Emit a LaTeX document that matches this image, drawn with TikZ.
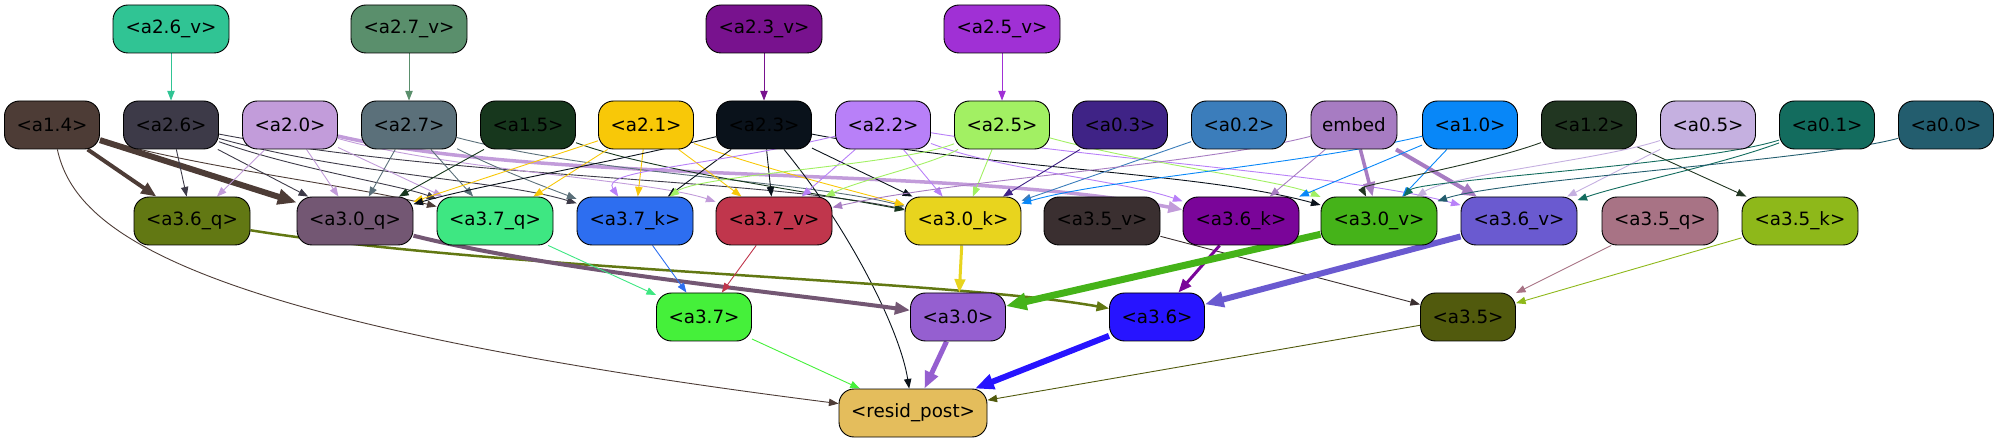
\documentclass[tikz,border=0pt]{standalone}
\usepackage{fontspec}
\setmainfont{DejaVu Sans}
\usetikzlibrary{arrows.meta,backgrounds}
\newcommand\nfnt{\fontsize{18.3pt}{22pt}\selectfont}
\definecolor{c26v}{HTML}{30C494}
\definecolor{c27v}{HTML}{5A8F6C}
\definecolor{c23v}{HTML}{78128E}
\definecolor{c25v}{HTML}{A030D5}
\definecolor{c14}{HTML}{4D3C36}
\definecolor{c26}{HTML}{3D3A48}
\definecolor{c20}{HTML}{C29CDA}
\definecolor{c27}{HTML}{5B707A}
\definecolor{c15}{HTML}{17371D}
\definecolor{c21}{HTML}{F8C808}
\definecolor{c23}{HTML}{0A121B}
\definecolor{c22}{HTML}{B880F8}
\definecolor{c25}{HTML}{A2F063}
\definecolor{c03}{HTML}{3F2386}
\definecolor{c02}{HTML}{3B7DBB}
\definecolor{cemb}{HTML}{A77CC2}
\definecolor{c10}{HTML}{0887F8}
\definecolor{c12}{HTML}{213621}
\definecolor{c05}{HTML}{C5B0E0}
\definecolor{c01}{HTML}{136C5E}
\definecolor{c00}{HTML}{235D6E}
\definecolor{c36q}{HTML}{627813}
\definecolor{c30q}{HTML}{735773}
\definecolor{c37q}{HTML}{3EE782}
\definecolor{c37k}{HTML}{2D6EF0}
\definecolor{c37v}{HTML}{C0364C}
\definecolor{c30k}{HTML}{E8D41E}
\definecolor{c35v}{HTML}{3A2F30}
\definecolor{c36k}{HTML}{7A0599}
\definecolor{c30v}{HTML}{45B319}
\definecolor{c36v}{HTML}{6A5AD0}
\definecolor{c35q}{HTML}{A87385}
\definecolor{c35k}{HTML}{8EB81A}
\definecolor{c37}{HTML}{45F03A}
\definecolor{c30}{HTML}{955FD0}
\definecolor{c36}{HTML}{2714FF}
\definecolor{c35}{HTML}{515A0D}
\definecolor{cres}{HTML}{E4BD5C}
\tikzset{
  nd/.style={draw=black, line width=0.9pt, rounded corners=15pt, minimum height=48pt,
    minimum width=95pt, inner sep=0pt, font=\nfnt, text=black},
  wd/.style={nd, minimum width=116pt},
  ed/.style={line width=#1, -{Triangle[length=8pt 1.8, width=6pt 1.5]}},
  ed/.default=0.9pt
}
\begin{document}
\begin{tikzpicture}[x=1pt,y=1pt]
\useasboundingbox (0,0) rectangle (1996,-443);
% row 0
\node[wd, fill=c26v] (a26v) at (171,-29) {<a2.6\_v>};
\node[wd, fill=c27v] (a27v) at (409,-29) {<a2.7\_v>};
\node[wd, fill=c23v] (a23v) at (764,-29) {<a2.3\_v>};
\node[wd, fill=c25v] (a25v) at (1002,-29) {<a2.5\_v>};
% row 1
\node[nd, fill=c14] (a14) at (52,-125) {<a1.4>};
\node[nd, fill=c26] (a26) at (171,-125) {<a2.6>};
\node[nd, fill=c20] (a20) at (290,-125) {<a2.0>};
\node[nd, fill=c27] (a27) at (409,-125) {<a2.7>};
\node[nd, fill=c15] (a15) at (528,-125) {<a1.5>};
\node[nd, fill=c21] (a21) at (646,-125) {<a2.1>};
\node[nd, fill=c23] (a23) at (764,-125) {<a2.3>};
\node[nd, fill=c22] (a22) at (883,-125) {<a2.2>};
\node[nd, fill=c25] (a25) at (1002,-125) {<a2.5>};
\node[nd, fill=c03] (a03) at (1120,-125) {<a0.3>};
\node[nd, fill=c02] (a02) at (1239,-125) {<a0.2>};
\node[nd, fill=cemb, minimum width=86pt] (emb) at (1354,-125) {embed};
\node[nd, fill=c10] (a10) at (1470,-125) {<a1.0>};
\node[nd, fill=c12] (a12) at (1589,-125) {<a1.2>};
\node[nd, fill=c05] (a05) at (1708,-125) {<a0.5>};
\node[nd, fill=c01] (a01) at (1827,-125) {<a0.1>};
\node[nd, fill=c00] (a00) at (1946,-125) {<a0.0>};
% row 2
\node[wd, fill=c36q] (a36q) at (192,-221) {<a3.6\_q>};
\node[wd, fill=c30q] (a30q) at (355,-221) {<a3.0\_q>};
\node[wd, fill=c37q] (a37q) at (495,-221) {<a3.7\_q>};
\node[wd, fill=c37k] (a37k) at (635,-221) {<a3.7\_k>};
\node[wd, fill=c37v] (a37v) at (774,-221) {<a3.7\_v>};
\node[wd, fill=c30k] (a30k) at (963,-221) {<a3.0\_k>};
\node[wd, fill=c35v] (a35v) at (1102,-221) {<a3.5\_v>};
\node[wd, fill=c36k] (a36k) at (1241,-221) {<a3.6\_k>};
\node[wd, fill=c30v] (a30v) at (1379,-221) {<a3.0\_v>};
\node[wd, fill=c36v] (a36v) at (1519,-221) {<a3.6\_v>};
\node[wd, fill=c35q] (a35q) at (1660,-221) {<a3.5\_q>};
\node[wd, fill=c35k] (a35k) at (1800,-221) {<a3.5\_k>};
% row 3
\node[nd, fill=c37] (a37) at (704,-317) {<a3.7>};
\node[nd, fill=c30] (a30) at (958,-317) {<a3.0>};
\node[nd, fill=c36] (a36) at (1157,-317) {<a3.6>};
\node[nd, fill=c35] (a35) at (1468,-317) {<a3.5>};
% row 4
\node[nd, fill=cres, minimum width=148pt] (res) at (913,-413) {<resid\_post>};

\begin{scope}[on background layer]
% row 0 -> row 1
\draw[ed, draw=c26v] (a26v) -- (a26);
\draw[ed, draw=c27v] (a27v) -- (a27);
\draw[ed, draw=c23v] (a23v) -- (a23);
\draw[ed, draw=c25v] (a25v) -- (a25);

% row 1 -> row 2
\draw[ed=4pt, draw=c14] (a14) -- (a36q);
\draw[ed=6pt, draw=c14] (a14) -- (a30q);
\draw[ed, draw=c14] (a14) .. controls (200,-168) and (350,-185) .. (a37q);
\draw[ed, draw=c14] (a14) .. controls (75,-230) and (180,-320) .. (res);

\draw[ed, draw=c26] (a26) -- (a36q);
\draw[ed, draw=c26] (a26) -- (a30q);
\draw[ed, draw=c26] (a26) .. controls (300,-170) and (400,-185) .. (a37q);
\draw[ed, draw=c26] (a26) .. controls (350,-175) and (500,-180) .. (a37k);
\draw[ed, draw=c26] (a26) .. controls (450,-178) and (750,-178) .. (a30k);

\draw[ed, draw=c20] (a20) -- (a36q);
\draw[ed, draw=c20] (a20) -- (a30q);
\draw[ed, draw=c20] (a20) -- (a37q);
\draw[ed, draw=c20] (a20) .. controls (450,-170) and (650,-180) .. (a37v);
\draw[ed=3.5pt, draw=c20] (a20) .. controls (550,-185) and (950,-165) .. (a36k);

\draw[ed, draw=c27] (a27) -- (a30q);
\draw[ed, draw=c27] (a27) -- (a37q);
\draw[ed, draw=c27] (a27) .. controls (500,-170) and (540,-185) .. (a37k);
\draw[ed, draw=c27] (a27) .. controls (600,-175) and (800,-180) .. (a30k);

\draw[ed, draw=c15] (a15) -- (a30q);
\draw[ed, draw=c15] (a15) .. controls (650,-170) and (800,-190) .. (a30k);

\draw[ed, draw=c21] (a21) -- (a30q);
\draw[ed, draw=c21] (a21) -- (a37q);
\draw[ed, draw=c21] (a21) -- (a37k);
\draw[ed, draw=c21] (a21) -- (a37v);
\draw[ed, draw=c21] (a21) .. controls (750,-165) and (850,-190) .. (a30k);

\draw[ed, draw=c23] (a23) .. controls (600,-165) and (480,-185) .. (a30q);
\draw[ed, draw=c23] (a23) -- (a37k);
\draw[ed, draw=c23] (a23) -- (a37v);
\draw[ed, draw=c23] (a23) -- (a30k);
\draw[ed, draw=c23] (a23) .. controls (1000,-170) and (1200,-172) .. (a30v);
\draw[ed, draw=c23] (a23) .. controls (850,-230) and (900,-330) .. (res);

\draw[ed, draw=c22] (a22) .. controls (700,-168) and (600,-170) .. (a37k);
\draw[ed, draw=c22] (a22) -- (a37v);
\draw[ed, draw=c22] (a22) -- (a30k);
\draw[ed, draw=c22] (a22) .. controls (1000,-170) and (1120,-180) .. (a36k);
\draw[ed, draw=c22] (a22) .. controls (1100,-160) and (1350,-175) .. (a36v);

\draw[ed, draw=c25] (a25) .. controls (900,-165) and (700,-175) .. (a37k);
\draw[ed, draw=c25] (a25) .. controls (930,-165) and (860,-180) .. (a37v);
\draw[ed, draw=c25] (a25) -- (a30k);
\draw[ed, draw=c25] (a25) .. controls (1150,-165) and (1280,-180) .. (a30v);

\draw[ed, draw=c03] (a03) -- (a30k);
\draw[ed, draw=c02] (a02) -- (a30k);

\draw[ed, draw=cemb] (emb) .. controls (1200,-165) and (950,-180) .. (a37v);
\draw[ed, draw=cemb] (emb) -- (a36k);
\draw[ed=3.5pt, draw=cemb] (emb) -- (a30v);
\draw[ed=4pt, draw=cemb] (emb) -- (a36v);

\draw[ed, draw=c10] (a10) .. controls (1300,-165) and (1100,-180) .. (a30k);
\draw[ed, draw=c10] (a10) -- (a36k);
\draw[ed, draw=c10] (a10) -- (a30v);

\draw[ed, draw=c12] (a12) .. controls (1480,-165) and (1360,-185) .. (a30v);
\draw[ed, draw=c12] (a12) -- (a35k);

\draw[ed, draw=c05] (a05) -- (a36v);
\draw[ed, draw=c05] (a05) .. controls (1600,-160) and (1450,-175) .. (a30v);

\draw[ed, draw=c01] (a01) .. controls (1700,-165) and (1420,-180) .. (a30v);
\draw[ed, draw=c01] (a01) .. controls (1720,-165) and (1620,-185) .. (a36v);
\draw[ed, draw=c00] (a00) .. controls (1820,-160) and (1500,-180) .. (a30v);

% row 2 -> row 3
\draw[ed=2.5pt, draw=c36q] (a36q) .. controls (500,-270) and (950,-280) .. (a36);
\draw[ed=4pt, draw=c30q] (a30q) .. controls (550,-270) and (800,-295) .. (a30);
\draw[ed, draw=c37q] (a37q) -- (a37);
\draw[ed, draw=c37k] (a37k) -- (a37);
\draw[ed, draw=c37v] (a37v) -- (a37);
\draw[ed=3pt, draw=c30k] (a30k) -- (a30);
\draw[ed, draw=c35v] (a35v) -- (a35);
\draw[ed=3pt, draw=c36k] (a36k) -- (a36);
\draw[ed=7pt, draw=c30v] (a30v) -- (a30);
\draw[ed=6pt, draw=c36v] (a36v) -- (a36);
\draw[ed, draw=c35q] (a35q) -- (a35);
\draw[ed, draw=c35k] (a35k) -- (a35);

% row 3 -> resid
\draw[ed, draw=c37] (a37) -- (res);
\draw[ed=5pt, draw=c30] (a30) -- (res);
\draw[ed=6pt, draw=c36] (a36) -- (res);
\draw[ed, draw=c35] (a35) -- (res);
\end{scope}
\end{tikzpicture}
\end{document}
